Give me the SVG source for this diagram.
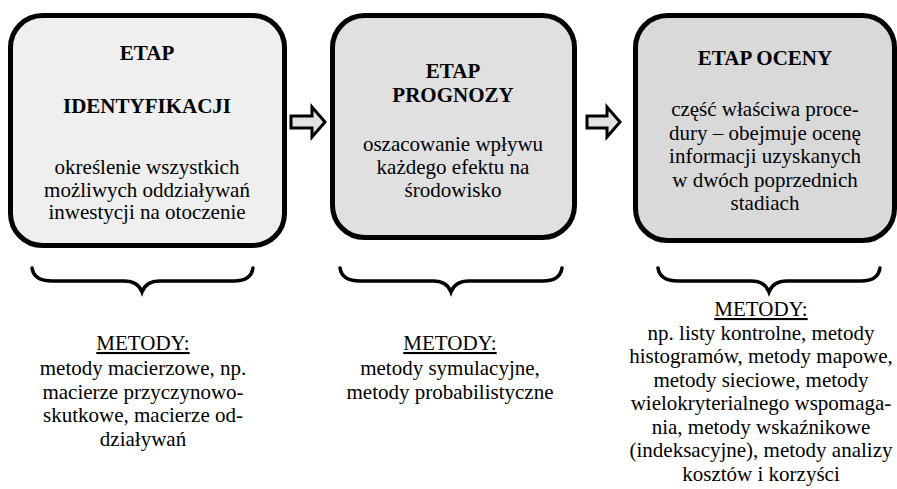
<svg xmlns="http://www.w3.org/2000/svg" width="897" height="489" viewBox="0 0 897 489">
<style>
.box{stroke:#000;stroke-width:5}
.t{font-family:"Liberation Serif","Times New Roman",serif;font-size:21px;fill:#000;text-anchor:middle}
.b{font-weight:bold}
.u{text-decoration:underline}
.arr{fill:#e2e2e2;stroke:#000;stroke-width:3;stroke-linejoin:miter}
.brace{fill:none;stroke:#000;stroke-width:3.5;stroke-linecap:round}
</style>
<rect width="897" height="489" fill="#fff"/>
<g id="node-identyfikacja">
<rect class="box" x="10.5" y="15.5" width="274" height="230" rx="32" fill="#efefef"/>
<text class="t b" x="147" y="60">ETAP</text>
<text class="t b" x="147" y="113">IDENTYFIKACJI</text>
<text class="t" x="147" y="174">określenie wszystkich</text>
<text class="t" x="147" y="196.5">możliwych oddziaływań</text>
<text class="t" x="147" y="219">inwestycji na otoczenie</text>
</g>
<g id="node-prognoza">
<rect class="box" x="332.5" y="15.5" width="242" height="222" rx="32" fill="#e0e0e0"/>
<text class="t b" x="453" y="78">ETAP</text>
<text class="t b" x="453" y="102">PROGNOZY</text>
<text class="t" x="453" y="151">oszacowanie wpływu</text>
<text class="t" x="453" y="174">każdego efektu na</text>
<text class="t" x="453" y="197">środowisko</text>
</g>
<g id="node-ocena">
<rect class="box" x="635.5" y="15.5" width="259" height="225" rx="32" fill="#d9d9d9"/>
<text class="t b" x="765" y="65">ETAP OCENY</text>
<text class="t" x="765" y="116">część właściwa proce-</text>
<text class="t" x="765" y="139.5">dury – obejmuje ocenę</text>
<text class="t" x="765" y="163">informacji uzyskanych</text>
<text class="t" x="765" y="186.5">w dwóch poprzednich</text>
<text class="t" x="765" y="210">stadiach</text>
</g>
<g id="connectors">
<path class="arr" d="M291,116 L312,116 L312,107 L325,122 L312,137 L312,128 L291,128 Z"/>
<path class="arr" d="M587,116 L607,116 L607,107 L620,122 L607,137 L607,128 L587,128 Z"/>
<path class="brace" d="M32,268 Q34,281 52,281 L124,281 Q138,281 142,292 Q146,281 160,281 L234,281 Q251,281 253,268"/>
<path class="brace" d="M340,268 Q342,281 360,281 L433,281 Q447,281 451,292 Q455,281 469,281 L543,281 Q560,281 562,268"/>
<path class="brace" d="M658,268 Q660,281 678,281 L751,281 Q765,281 769,292 Q773,281 787,281 L861,281 Q878,281 880,268"/>
</g>
<g id="methods-1">
<text class="t u" x="143" y="350">METODY:</text>
<text class="t" x="143" y="375">metody macierzowe, np.</text>
<text class="t" x="143" y="398.5">macierze przyczynowo-</text>
<text class="t" x="143" y="422">skutkowe, macierze od-</text>
<text class="t" x="143" y="445.5">działywań</text>
</g>
<g id="methods-2">
<text class="t u" x="450" y="350">METODY:</text>
<text class="t" x="450" y="375">metody symulacyjne,</text>
<text class="t" x="450" y="398.5">metody probabilistyczne</text>
</g>
<g id="methods-3">
<text class="t u" x="761" y="316">METODY:</text>
<text class="t" x="761" y="339.5">np. listy kontrolne, metody</text>
<text class="t" x="761" y="363">histogramów, metody mapowe,</text>
<text class="t" x="761" y="386.5">metody sieciowe, metody</text>
<text class="t" x="761" y="410">wielokryterialnego wspomaga-</text>
<text class="t" x="761" y="433.5">nia, metody wskaźnikowe</text>
<text class="t" x="761" y="457">(indeksacyjne), metody analizy</text>
<text class="t" x="761" y="480.5">kosztów i korzyści</text>
</g>
</svg>
